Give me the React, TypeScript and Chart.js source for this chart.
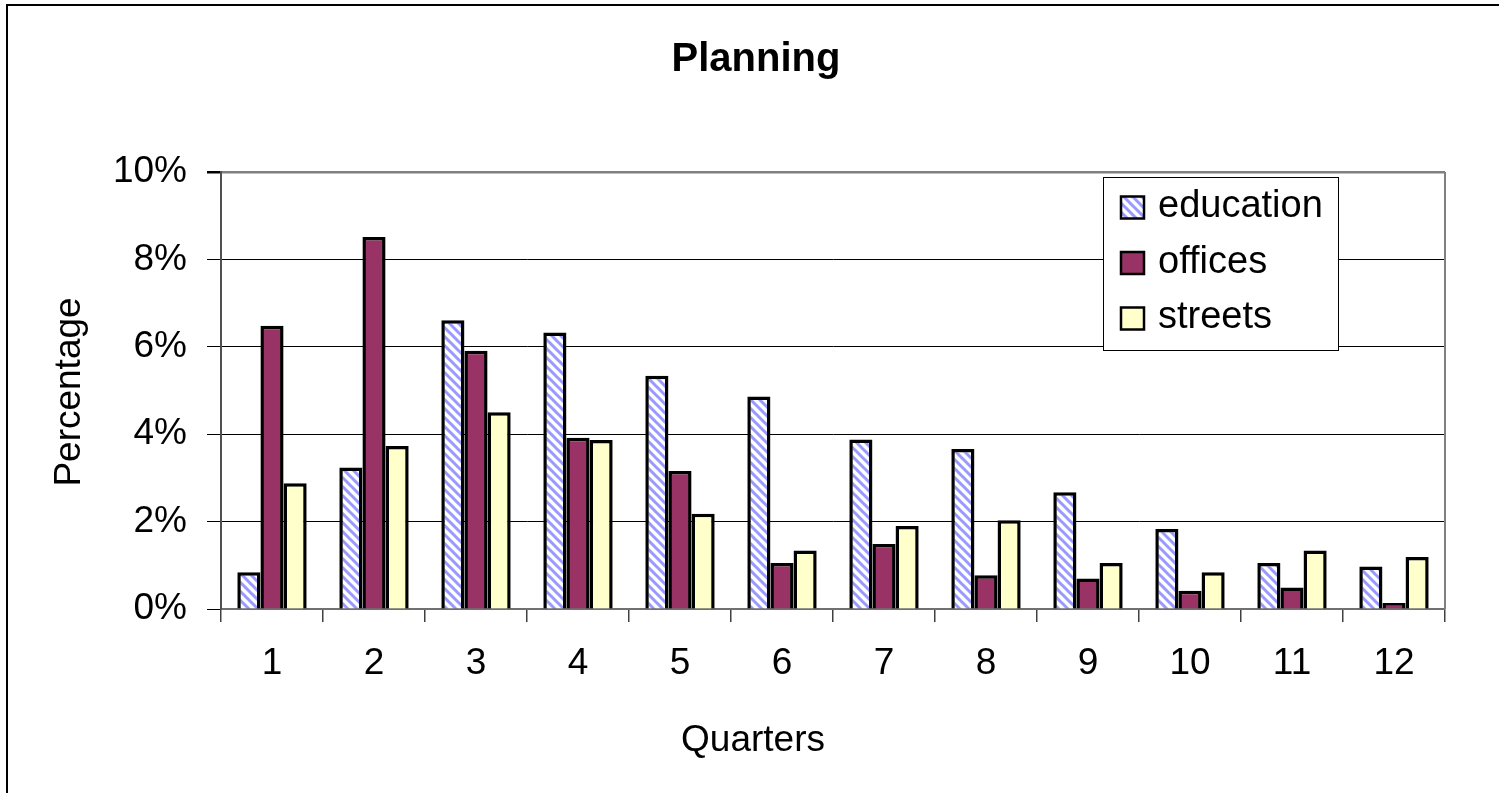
import React, { useEffect, useRef } from "react";
import { Chart, registerables } from "chart.js";

Chart.register(...registerables);

// Quarter numbers along the x axis
const quarters = ["1", "2", "3", "4", "5", "6", "7", "8", "9", "10", "11", "12"];

// Share per quarter, in percent
const education = [0.84, 3.24, 6.61, 6.33, 5.34, 4.86, 3.88, 3.66, 2.67, 1.83, 1.05, 0.97];
const offices = [6.48, 8.51, 5.91, 3.92, 3.16, 1.05, 1.49, 0.77, 0.7, 0.42, 0.49, 0.14];
const streets = [2.88, 3.73, 4.5, 3.87, 2.18, 1.34, 1.9, 2.03, 1.05, 0.84, 1.34, 1.19];

const seriesNames = ["education", "offices", "streets"];
const yMax = 10;
const yStep = 2;

const FONT = "'Liberation Sans', Arial, sans-serif";

// Diagonal blue-on-white hatch used for the education bars
function stripePattern(): CanvasPattern | string {
  const n = 9;
  const c = document.createElement("canvas");
  c.width = n;
  c.height = n;
  const g = c.getContext("2d");
  if (!g) return "#9999ff";
  g.fillStyle = "#ffffff";
  g.fillRect(0, 0, n, n);
  g.strokeStyle = "#9999ff";
  g.lineWidth = 3;
  g.beginPath();
  g.moveTo(-3, -3);
  g.lineTo(n + 3, n + 3);
  g.moveTo(-3, n - 3);
  g.lineTo(3, n + 3);
  g.moveTo(n - 3, -3);
  g.lineTo(n + 3, 3);
  g.stroke();
  return g.createPattern(c, "repeat") || "#9999ff";
}

export default function App() {
  const canvasRef = useRef<HTMLCanvasElement | null>(null);

  useEffect(() => {
    const canvas = canvasRef.current;
    if (!canvas) return;
    const hatch = stripePattern();
    const fills: (CanvasPattern | string)[] = [hatch, "#993366", "#ffffcc"];

    const decorations = {
      id: "decorations",
      afterDraw(chart: Chart) {
        const ctx = chart.ctx;
        const area = chart.chartArea;
        ctx.save();

        // outer frame
        ctx.strokeStyle = "#000";
        ctx.lineWidth = 2;
        ctx.beginPath();
        ctx.moveTo(7, 793);
        ctx.lineTo(7, 5);
        ctx.lineTo(1499, 5);
        ctx.stroke();

        // right edge of the plot area
        ctx.strokeStyle = "#808080";
        ctx.lineWidth = 2;
        ctx.beginPath();
        ctx.moveTo(area.right, area.top);
        ctx.lineTo(area.right, area.bottom);
        ctx.stroke();

        // chart title
        ctx.fillStyle = "#000";
        ctx.font = `bold 40px ${FONT}`;
        ctx.textAlign = "center";
        ctx.textBaseline = "alphabetic";
        ctx.fillText("Planning", 756, 71);

        // axis titles
        ctx.font = `37px ${FONT}`;
        ctx.fillText("Quarters", 753, 751);
        ctx.save();
        ctx.translate(80, 392);
        ctx.rotate(-Math.PI / 2);
        ctx.fillText("Percentage", 0, 0);
        ctx.restore();

        // legend
        const lx = 1103.5, ly = 177.5, lw = 235, lh = 173;
        ctx.fillStyle = "#fff";
        ctx.fillRect(lx, ly, lw, lh);
        ctx.strokeStyle = "#000";
        ctx.lineWidth = 1;
        ctx.strokeRect(lx, ly, lw, lh);
        ctx.font = `38px ${FONT}`;
        ctx.textAlign = "left";
        seriesNames.forEach((name, i) => {
          const cy = 207.5 + i * 55.5;
          ctx.fillStyle = fills[i] as any;
          ctx.fillRect(1121, cy - 11, 23, 22);
          ctx.strokeStyle = "#000";
          ctx.lineWidth = 2.5;
          ctx.strokeRect(1121, cy - 11, 23, 22);
          ctx.fillStyle = "#000";
          ctx.fillText(name, 1158, cy + 9.5);
        });
        ctx.restore();
      },
    };

    const chart = new Chart(canvas, {
      type: "bar",
      data: {
        labels: quarters,
        datasets: [
          { label: seriesNames[0], data: education, backgroundColor: hatch as any },
          { label: seriesNames[1], data: offices, backgroundColor: "#993366" },
          { label: seriesNames[2], data: streets, backgroundColor: "#ffffcc" },
        ].map((d) => ({
          ...d,
          borderColor: "#000",
          borderWidth: 3.5,
          borderSkipped: "bottom" as const,
          categoryPercentage: 0.68,
          barPercentage: 1.0,
        })),
      },
      options: {
        responsive: false,
        animation: false,
        events: [],
        layout: { padding: { top: 172, right: 54, left: 0, bottom: 0 } },
        plugins: {
          legend: { display: false },
          title: { display: false },
          tooltip: { enabled: false },
        },
        scales: {
          x: {
            afterFit: (s: any) => {
              s.height = 184;
            },
            grid: {
              drawOnChartArea: false,
              drawTicks: true,
              tickLength: 13,
              color: "#404040",
              lineWidth: 1.5,
            },
            border: { color: "#707070", width: 2 },
            ticks: {
              color: "#000",
              font: { family: FONT, size: 37 },
              padding: 20,
              maxRotation: 0,
            },
          },
          y: {
            min: 0,
            max: yMax,
            afterFit: (s: any) => {
              s.width = 221;
            },
            grid: {
              color: (c: any) => (c.tick && c.tick.value === yMax ? "#808080" : "#000"),
              lineWidth: (c: any) => (c.tick && c.tick.value === yMax ? 2.5 : 1),
              tickColor: "#000",
              tickLength: 14,
            },
            border: { color: "#505050", width: 2 },
            ticks: {
              stepSize: yStep,
              color: "#000",
              font: { family: FONT, size: 37 },
              padding: 20,
              callback: (v: any) => `${v}%`,
            },
          },
        },
      },
      plugins: [decorations],
    });

    return () => chart.destroy();
  }, []);

  return (
    <div style={{ position: "absolute", left: 0, top: 0, width: 1499, height: 793, background: "#fff" }}>
      <canvas ref={canvasRef} width={1499} height={793} style={{ display: "block", width: 1499, height: 793 }} />
    </div>
  );
}
